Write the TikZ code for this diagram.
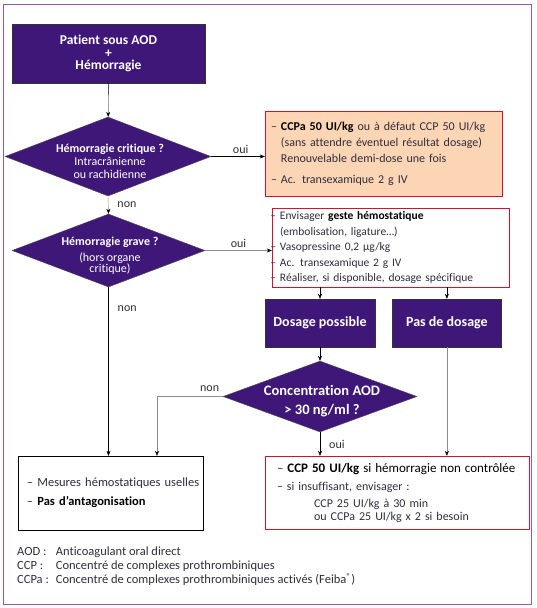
\documentclass[tikz,border=0pt]{standalone}
\usepackage{fontspec}
\setmainfont{Carlito}[Ligatures=NoCommon]
\usetikzlibrary{arrows,arrows.meta,shapes,positioning}
\definecolor{aodviolet}{HTML}{3F1778}
\definecolor{aodframe}{HTML}{8E5BA6}
\definecolor{aodred}{HTML}{D2122E}
\definecolor{aodpeach}{HTML}{FCD5B4}
\definecolor{aodtext}{HTML}{2E2E3E}
\tikzstyle{aS}=[every edge/.style={draw,-{Stealth[length=5pt,width=4pt,black]}}]
\tikzstyle{greyl}=[draw=black!45]
\tikzstyle{Aquest}=[draw=black!70,fill=aodviolet,diamond,inner sep=0]
\tikzstyle{Aqtext}=[text=white,align=center,inner sep=0,font=\fontsize{12}{13}\selectfont\bfseries]
\tikzstyle{Aact}=[draw=black!80,fill=aodviolet,inner sep=0,text=white,align=center,font=\fontsize{14}{15}\selectfont\bfseries]
\tikzstyle{Aurg}=[draw=aodred,fill=aodpeach,inner sep=0,inner xsep=6pt,align=left,text=aodtext,font=\fontsize{12}{16}\selectfont]
\tikzstyle{Atreat}=[draw=aodred,inner sep=0,inner xsep=8pt,align=left,text=aodtext,font=\fontsize{11.5}{15.5}\selectfont]
\tikzstyle{Aend}=[draw=black,inner sep=0,inner xsep=9pt,align=left,text=aodtext,font=\fontsize{12.5}{19}\selectfont]
\tikzstyle{lbl}=[text=aodtext,inner sep=1pt,font=\fontsize{12}{13}\selectfont]
\newcommand{\dash}{\leavevmode\llap{-- }}
\begin{document}
\begin{tikzpicture}[aS,x=1pt,y=-1pt]
  \useasboundingbox (0,0) rectangle (537,608);
  \draw[aodframe,line width=1pt] (3,4) rectangle (531,604);

  % questions and actions
  \node[Aact,minimum width=193,minimum height=59,font=\fontsize{13.5}{12.5}\selectfont\bfseries] (start) at (108.5,53.5) {Patient sous AOD\\+\\Hémorragie};
  \node[Aquest,minimum width=206,minimum height=79] (crit) at (108,156.5) {};
  \node[Aqtext] (critt) at (110,161) {Hémorragie critique ?\\{\mdseries Intracrânienne}\\{\mdseries ou rachidienne}};
  \node[Aquest,minimum width=193,minimum height=73] (grave) at (108.5,250.5) {};
  \node[Aqtext] (gravet) at (110,256) {Hémorragie grave ?\\[3pt]{\mdseries (hors organe}\\[-2pt]{\mdseries critique)}};
  \node[Aact,minimum width=110,minimum height=48] (dp) at (320,323) {Dosage possible};
  \node[Aact,minimum width=109,minimum height=48,right=17pt of dp] (pd) {Pas de dosage};
  \node[Aquest,minimum width=194,minimum height=71] (conc) at (320,396.5) {};
  \node[Aqtext,font=\fontsize{14.5}{15}\selectfont\bfseries] (conct) at (322,401) {Concentration AOD\\[4pt]> 30 ng/ml ?};

  % treatments
  \node[Aurg,minimum width=237,minimum height=85,text width=225] (ccpa) at (383.5,153.5)
    {-- {\color{black}\textbf{CCPa 50 UI/kg}} ou à défaut CCP 50 UI/kg\\
     \hphantom{-- }(sans attendre éventuel résultat dosage)\\
     \hphantom{-- }Renouvelable demi-dose une fois\\[5pt]
     -- Ac. transexamique 2 g IV};
  \node[Atreat,minimum width=237,minimum height=79,text width=221] (geste) at (390.5,247.5)
    {\dash Envisager {\color{black}\textbf{geste hémostatique}}\\
     (embolisation, ligature…)\\
     \dash Vasopressine 0,2 µg/kg\\
     \dash Ac. transexamique 2 g IV\\
     \dash Réaliser, si disponible, dosage spécifique};
  \node[Aend,minimum width=185,minimum height=74,text width=167] (mes) at (110.5,493)
    {\mbox{-- Mesures hémostatiques uselles}\\
     \mbox{-- {\color{black}\textbf{Pas d’antagonisation}}}};
  \node[Atreat,inner xsep=12pt,minimum width=264,minimum height=73,text width=240,font=\fontsize{12}{17}\selectfont] (ccp) at (397,492.5)
    {\mbox{\fontsize{13}{17}\selectfont -- {\color{black}\textbf{CCP 50 UI/kg} si hémorragie non contrôlée}}\\[1pt]
     -- si insuffisant, envisager :\\
     \hspace*{37pt}CCP 25 UI/kg à 30 min\\[-4pt]
     \hspace*{37pt}ou CCPa 25 UI/kg x 2 si besoin};

  % legend
  \node[anchor=north west,inner sep=0,text=aodtext,font=\fontsize{12.5}{14}\selectfont] (leg) at (17,545)
    {\begin{tabular}{@{}l@{\hspace{7pt}}l@{}}
      AOD : & Anticoagulant oral direct\\
      CCP : & Concentré de complexes prothrombiniques\\
      CCPa : & Concentré de complexes prothrombiniques activés (Feiba\textsuperscript{®})
     \end{tabular}};

  % connectors
  \coordinate (nonc) at (157,396.5);
  \path
    (start) edge (crit)
    (crit.east) edge node[lbl,above=2pt,pos=0.55] {oui} (crit.east -| ccpa.west)
    (crit.south) edge[greyl] node[lbl,right=8pt] {non} (grave.north)
    (grave.east) edge[greyl] node[lbl,above=2pt,pos=0.5] {oui} (grave.east -| geste.west)
    (grave.south) edge node[lbl,right=8pt,pos=0.13] {non} (grave.south |- mes.north)
    (geste.south -| dp) edge (dp)
    (geste.south -| pd) edge (pd)
    (dp) edge (conc.north)
    (conc.south) edge node[lbl,right=8pt] {oui} (conc.south |- ccp.north)
    (pd) edge[greyl] (pd |- ccp.north)
    (nonc) edge[greyl] (nonc |- mes.north)
    ;
  \draw[greyl] (conc.west) -- node[lbl,above=4pt,pos=0.2] {non} (nonc);
\end{tikzpicture}
\end{document}
